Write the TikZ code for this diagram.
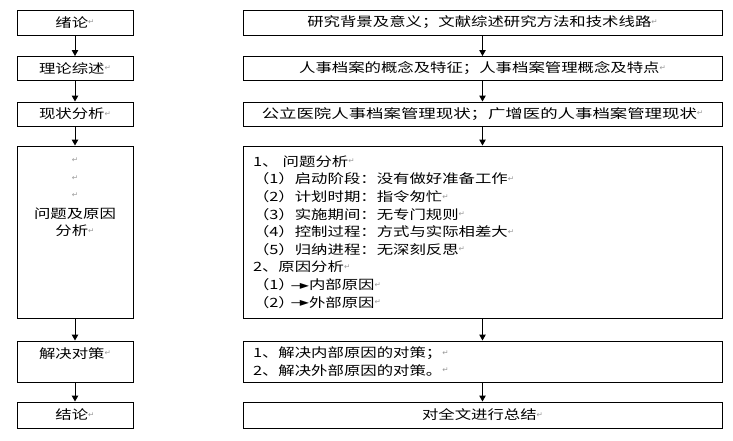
\documentclass[tikz,border=0pt]{standalone}
\usepackage{fontspec}
\usepackage{xcolor}
\usetikzlibrary{arrows.meta}
\usetikzlibrary{graphs}
\newfontfamily\cjk[FakeStretch=1.28]{Noto Sans CJK SC}
\newfontfamily\cjkw[FakeStretch=1.36]{Noto Sans CJK SC}
\newfontfamily\arrfont{DejaVu Sans}
\newcommand{\pmk}{\raisebox{2.5pt}{\arrfont\fontsize{7.5}{7.5}\selectfont\color{gray!80}↵}}
\newcommand{\harr}{\raisebox{0.5pt}{\arrfont\fontsize{12}{12}\selectfont —\kern-3pt►}}
\tikzset{
	box/.style={draw, line width=1pt, inner sep=0pt,
			font=\cjk\fontsize{12.8}{17.6}\selectfont, align=center},
	lbox/.style={box, minimum width=116, minimum height=#1},
	rbox/.style={box, minimum width=479, minimum height=#1}
}

\begin{document}
\begin{tikzpicture}[x=1pt, y=-1pt, >={Triangle[length=6pt,width=6.5pt]}]
	\useasboundingbox (0,0) rectangle (733,440);
	% left column
	\node[lbox=25] (l1) at (75,22.5) {绪论\pmk};
	\node[lbox=24] (l2) at (75,68.5) {理论综述\pmk};
	\node[lbox=24] (l3) at (75,114) {现状分析\pmk};
	\node[lbox=172] (l4) at (75,232) {\pmk\\ \pmk\\ \pmk\\ 问题及原因\\ 分析\pmk\\ ~\\ ~\\ ~\\ ~};
	\node[lbox=41] (l5) at (75,361.5) {解决对策\pmk\\ ~};
	\node[lbox=26] (l6) at (75,415) {结论\pmk};
	% right column
	\node[rbox=25] (r1) at (482.5,22.5) {研究背景及意义；文献综述研究方法和技术线路\pmk};
	\node[rbox=24] (r2) at (482.5,68.5) {人事档案的概念及特征；人事档案管理概念及特点\pmk};
	\node[rbox=24, font=\cjkw\fontsize{12.8}{17.6}\selectfont] (r3) at (482.5,114) {公立医院人事档案管理现状；广增医的人事档案管理现状\pmk};
	\node[rbox=172, text width=459, align=left] (r4) at (482.5,232) {1、 问题分析\pmk\\
		（1）启动阶段：没有做好准备工作\pmk\\
		（2）计划时期：指令匆忙\pmk\\
		（3）实施期间：无专门规则\pmk\\
		（4）控制过程：方式与实际相差大\pmk\\
		（5）归纳进程：无深刻反思\pmk\\
		2、原因分析\pmk\\
		（1）\kern-4pt\harr 内部原因\pmk\\
		（2）\kern-4pt\harr 外部原因\pmk};
	\node[rbox=41, text width=459, align=left] (r5) at (482.5,361.5) {1、解决内部原因的对策；\pmk\\
		2、解决外部原因的对策。\pmk};
	\node[rbox=26] (r6) at (482.5,415) {对全文进行总结\pmk};
	% arrows
	\graph[use existing nodes, edges={line width=1pt}]{
		l1 -> l2 -> l3 -> l4 -> l5 -> l6;
		r1 -> r2 -> r3 -> r4 -> r5 -> r6;
	};
\end{tikzpicture}
\end{document}
